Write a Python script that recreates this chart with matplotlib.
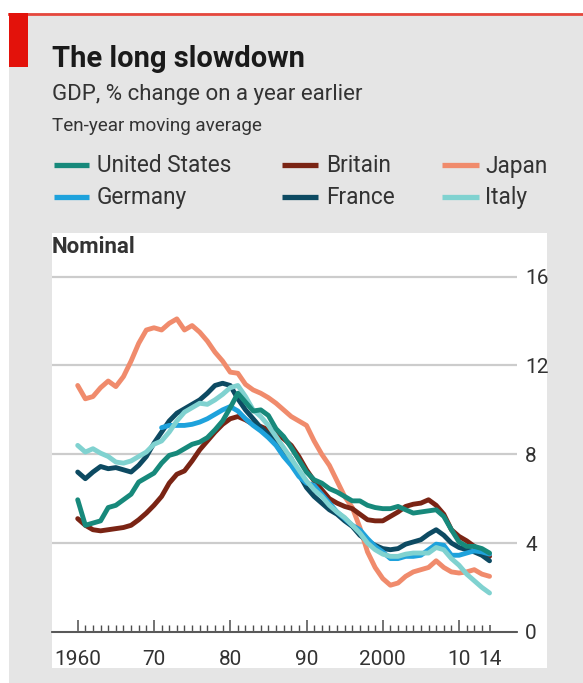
import numpy as np
import matplotlib
matplotlib.use("Agg")
import matplotlib.pyplot as plt
from matplotlib.patches import Rectangle
from matplotlib.lines import Line2D

plt.rcParams['font.family'] = ['Roboto', 'DejaVu Sans']

# ---------------- data ----------------
years = list(range(1960, 2015))
germany_years = list(range(1971, 2015))

united_states = [5.95, 4.8, 4.9, 5.0, 5.6, 5.7, 5.95, 6.2, 6.75, 6.95,
                 7.15, 7.6, 7.95, 8.05, 8.25, 8.45, 8.55, 8.75, 9.1, 9.5,
                 10.1, 10.75, 10.35, 9.95, 10.0, 9.75, 9.15, 8.8, 8.3, 7.75,
                 7.2, 6.85, 6.7, 6.45, 6.3, 6.1, 5.9, 5.9, 5.7, 5.6,
                 5.55, 5.55, 5.65, 5.5, 5.35, 5.4, 5.45, 5.5, 5.2, 4.6,
                 4.05, 3.85, 3.85, 3.75, 3.55]

britain = [5.1, 4.8, 4.6, 4.55, 4.6, 4.65, 4.7, 4.8, 5.05, 5.35,
           5.7, 6.1, 6.7, 7.1, 7.25, 7.7, 8.2, 8.6, 9.0, 9.35,
           9.6, 9.7, 9.55, 9.35, 9.25, 9.1, 8.9, 8.7, 8.4, 7.9,
           7.3, 6.8, 6.4, 6.0, 5.8, 5.65, 5.55, 5.3, 5.05, 5.0,
           5.0, 5.2, 5.4, 5.65, 5.75, 5.8, 5.95, 5.7, 5.3, 4.6,
           4.3, 4.1, 3.85, 3.6, 3.4]

japan = [11.1, 10.5, 10.6, 11.0, 11.3, 11.05, 11.5, 12.2, 13.0, 13.6,
         13.7, 13.6, 13.9, 14.1, 13.6, 13.8, 13.5, 13.1, 12.6, 12.2,
         11.7, 11.65, 11.15, 10.9, 10.75, 10.55, 10.3, 10.0, 9.7, 9.5,
         9.3, 8.6, 8.0, 7.5, 6.8, 6.1, 5.6, 4.7, 3.6, 2.9,
         2.4, 2.1, 2.2, 2.5, 2.7, 2.8, 2.9, 3.2, 2.9, 2.7,
         2.65, 2.7, 2.8, 2.6, 2.5]

germany = [9.2, 9.3, 9.3, 9.3, 9.35, 9.45, 9.6, 9.8, 10.0, 10.15,
           9.95, 9.6, 9.3, 9.05, 8.75, 8.4, 7.9, 7.5, 7.0,
           6.7, 6.6, 6.2, 5.8, 5.4, 5.1, 4.8, 4.6, 4.2, 3.85,
           3.6, 3.3, 3.3, 3.4, 3.4, 3.45, 3.7, 3.95, 3.9, 3.45,
           3.45, 3.55, 3.65, 3.6, 3.5]

france = [7.2, 6.9, 7.2, 7.45, 7.35, 7.4, 7.3, 7.2, 7.5, 7.9,
          8.5, 9.0, 9.5, 9.85, 10.05, 10.25, 10.45, 10.75, 11.1, 11.2,
          11.1, 10.5, 10.0, 9.6, 9.2, 8.9, 8.6, 8.2, 7.8, 7.1,
          6.5, 6.1, 5.8, 5.5, 5.3, 5.0, 4.75, 4.35, 4.1, 3.9,
          3.75, 3.7, 3.75, 3.95, 4.05, 4.15, 4.4, 4.6, 4.35, 4.0,
          3.8, 3.7, 3.6, 3.45, 3.2]

italy = [8.4, 8.1, 8.25, 8.05, 7.9, 7.65, 7.6, 7.7, 7.9, 8.1,
         8.45, 8.6, 9.0, 9.5, 9.9, 10.1, 10.3, 10.25, 10.45, 10.7,
         11.0, 11.1, 10.6, 10.0, 9.7, 9.3, 8.8, 8.3, 7.8, 7.3,
         6.8, 6.4, 6.1, 5.7, 5.4, 5.15, 4.8, 4.45, 4.0, 3.7,
         3.5, 3.4, 3.4, 3.5, 3.55, 3.55, 3.55, 3.8, 3.7, 3.3,
         3.0, 2.6, 2.3, 2.0, 1.75]

names = ["United States", "Britain", "Japan", "Germany", "France", "Italy"]
colors = {"United States": "#17897b", "Britain": "#7a2414", "Japan": "#f08b6c",
          "Germany": "#1ea2dc", "France": "#0d4a62", "Italy": "#80d2d0"}
series = {"United States": (years, united_states), "Britain": (years, britain),
          "Japan": (years, japan), "Germany": (germany_years, germany),
          "France": (years, france), "Italy": (years, italy)}
draw_order = ["Japan", "Britain", "France", "Germany", "Italy", "United States"]

major_years = [1960, 1970, 1980, 1990, 2000, 2010, 2014]
major_labels = ["1960", "70", "80", "90", "2000", "10", "14"]
y_ticks = [0, 4, 8, 12, 16]

# ---------------- figure ----------------
W, H = 583, 683
fig = plt.figure(figsize=(W / 100, H / 100), dpi=100)
fig.patch.set_facecolor("white")

def fx(px):
    return px / W

def fy(py):
    return 1 - py / H

# grey panel
fig.patches.append(Rectangle((fx(9), 0), 1 - fx(9), fy(13), transform=fig.transFigure,
                             facecolor="#e5e5e5", edgecolor="none", zorder=-3))
# red top rule and red block
fig.add_artist(Line2D([fx(9), 1], [fy(13.5), fy(13.5)], color="#e5473d", lw=2.0, zorder=2))
fig.patches.append(Rectangle((fx(9), fy(67)), fx(28) - fx(9), fy(13) - fy(67),
                             transform=fig.transFigure, facecolor="#e3120b",
                             edgecolor="none", zorder=2))
# white chart panel
fig.patches.append(Rectangle((fx(52), fy(668)), fx(547) - fx(52), fy(233) - fy(668),
                             transform=fig.transFigure, facecolor="white",
                             edgecolor="none", zorder=-2))

# titles
fig.text(fx(52), fy(67), "The long slowdown", fontsize=21, fontweight="bold",
         color="#1a1a1a", va="baseline", ha="left")
fig.text(fx(52), fy(100), "GDP, % change on a year earlier", fontsize=16,
         color="#333333", va="baseline", ha="left")
fig.text(fx(52), fy(131), "Ten-year moving average", fontsize=13.6,
         color="#333333", va="baseline", ha="left")

# legend
leg_cols = [(54, 89, 97), (282, 318, 326), (442, 479, 485)]
leg_rows = [165, 197]
for i, name in enumerate(names):
    row, col = divmod(i, 3)
    x0, x1, xt = leg_cols[col]
    yy = leg_rows[row]
    fig.add_artist(Line2D([fx(x0), fx(x1)], [fy(yy), fy(yy)], color=colors[name],
                          lw=3.8, solid_capstyle="butt"))
    fig.text(fx(xt), fy(yy + 1), name, fontsize=16.3, color="#333333",
             va="center", ha="left")

# ---------------- axes ----------------
ax = fig.add_axes([fx(52), fy(668), fx(517) - fx(52), fy(233) - fy(668)])
ax.set_facecolor("white")
ax.set_xlim(1956.63, 2017.6)
ax.set_ylim(-1.63, 17.97)

for name in draw_order:
    xs, ys = series[name]
    ax.plot(xs, ys, color=colors[name], lw=3.5, solid_capstyle="round",
            solid_joinstyle="round", zorder=3)

for s in ["top", "left", "right"]:
    ax.spines[s].set_visible(False)
ax.spines["bottom"].set_position(("data", 0))
ax.spines["bottom"].set_color("#4d4d4d")
ax.spines["bottom"].set_linewidth(1.3)

ax.set_xticks(major_years)
ax.set_xticklabels(major_labels)
ax.set_xticks(years, minor=True)
ax.tick_params(axis="x", which="major", direction="in", length=8.4, width=1.1,
               color="#4d4d4d", labelsize=15, labelcolor="#333333", pad=13)
ax.tick_params(axis="x", which="minor", direction="in", length=4.8, width=1.0,
               color="#4d4d4d")
ax.xaxis.get_major_ticks()[-1].tick1line.set_markersize(4.8)

ax.set_yticks(y_ticks)
ax.set_yticklabels([str(v) for v in y_ticks])
ax.yaxis.tick_right()
ax.tick_params(axis="y", length=0, labelsize=15, labelcolor="#333333", pad=6)
ax.grid(axis="y", color="#cccccc", lw=1.6)
ax.set_axisbelow(True)

ax.text(0.0, 0.993, "Nominal", transform=ax.transAxes, fontsize=16, fontweight="bold",
        color="#333333", ha="left", va="top")

fig.savefig("out.png", dpi=100, facecolor=fig.get_facecolor())
